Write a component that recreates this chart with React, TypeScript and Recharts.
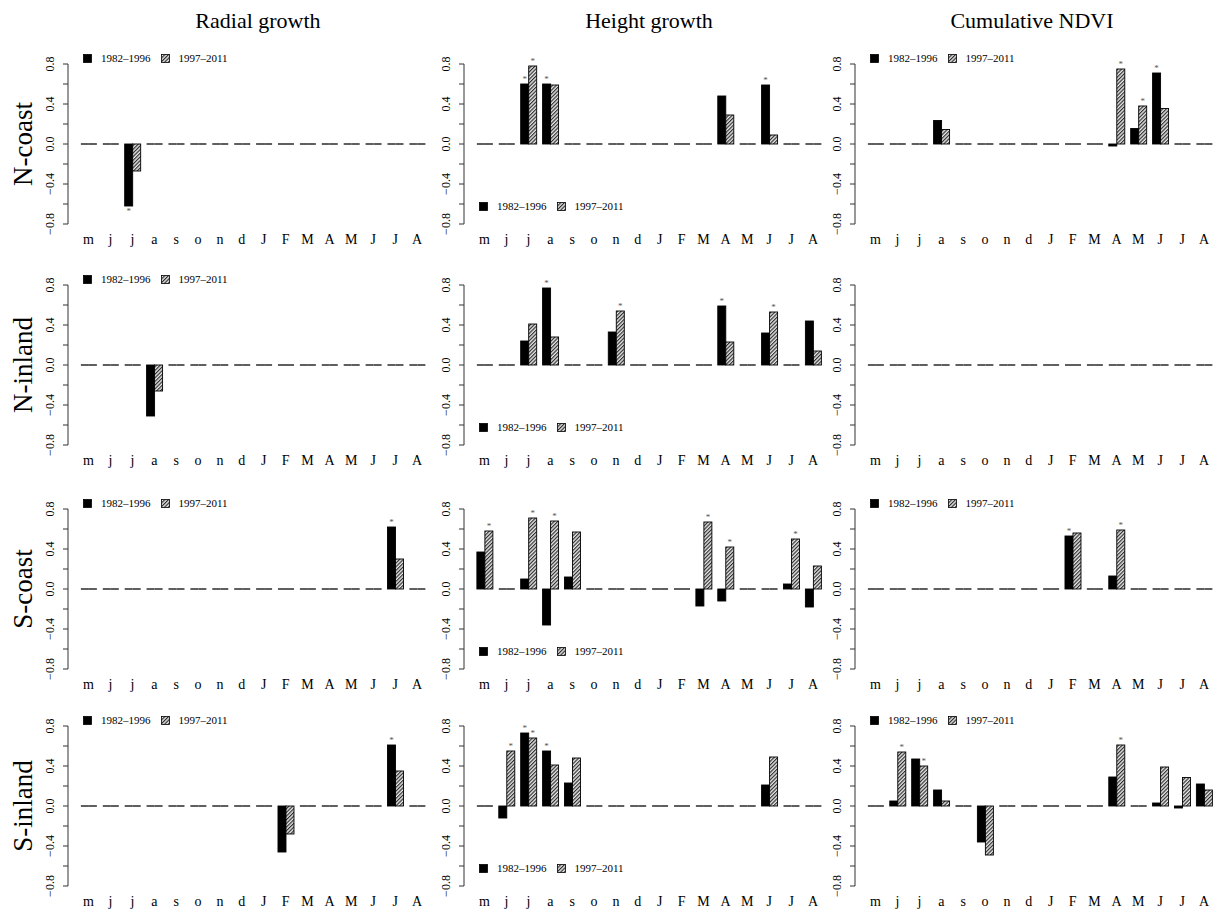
import React from "react";
import { BarChart, Bar, XAxis, YAxis, LabelList } from "recharts";

const SERIF = "'Liberation Serif', 'Times New Roman', serif";

const MONTHS = ["m", "j", "j", "a", "s", "o", "n", "d", "J", "F", "M", "A", "M", "J", "J", "A"];
const Y_TICKS = [-0.8, -0.6, -0.4, -0.2, 0, 0.2, 0.4, 0.6, 0.8];
const PERIODS = ["1982–1996", "1997–2011"];
const COLUMNS = ["Radial growth", "Height growth", "Cumulative NDVI"];
const REGIONS = ["N-coast", "N-inland", "S-coast", "S-inland"];

// radial growth (A = 1982-1996, B = 1997-2011), sig = indices marked with *
const radNCoastA = [0, 0, -0.62, 0, 0, 0, 0, 0, 0, 0, 0, 0, 0, 0, 0, 0];
const radNCoastB = [0, 0, -0.27, 0, 0, 0, 0, 0, 0, 0, 0, 0, 0, 0, 0, 0];
const radNCoastSigA = [2];
const radNCoastSigB: number[] = [];

const radNInlandA = [0, 0, 0, -0.51, 0, 0, 0, 0, 0, 0, 0, 0, 0, 0, 0, 0];
const radNInlandB = [0, 0, 0, -0.26, 0, 0, 0, 0, 0, 0, 0, 0, 0, 0, 0, 0];
const radNInlandSigA: number[] = [];
const radNInlandSigB: number[] = [];

const radSCoastA = [0, 0, 0, 0, 0, 0, 0, 0, 0, 0, 0, 0, 0, 0, 0.62, 0];
const radSCoastB = [0, 0, 0, 0, 0, 0, 0, 0, 0, 0, 0, 0, 0, 0, 0.3, 0];
const radSCoastSigA = [14];
const radSCoastSigB: number[] = [];

const radSInlandA = [0, 0, 0, 0, 0, 0, 0, 0, 0, -0.46, 0, 0, 0, 0, 0.61, 0];
const radSInlandB = [0, 0, 0, 0, 0, 0, 0, 0, 0, -0.28, 0, 0, 0, 0, 0.35, 0];
const radSInlandSigA = [14];
const radSInlandSigB: number[] = [];

// height growth
const htNCoastA = [0, 0, 0.6, 0.6, 0, 0, 0, 0, 0, 0, 0, 0.48, 0, 0.59, 0, 0];
const htNCoastB = [0, 0, 0.78, 0.59, 0, 0, 0, 0, 0, 0, 0, 0.29, 0, 0.09, 0, 0];
const htNCoastSigA = [2, 3, 13];
const htNCoastSigB = [2];

const htNInlandA = [0, 0, 0.24, 0.77, 0, 0, 0.33, 0, 0, 0, 0, 0.59, 0, 0.32, 0, 0.44];
const htNInlandB = [0, 0, 0.41, 0.28, 0, 0, 0.54, 0, 0, 0, 0, 0.23, 0, 0.53, 0, 0.14];
const htNInlandSigA = [3, 11];
const htNInlandSigB = [6, 13];

const htSCoastA = [0.37, 0, 0.1, -0.36, 0.12, 0, 0, 0, 0, 0, -0.17, -0.12, 0, 0, 0.05, -0.18];
const htSCoastB = [0.58, 0, 0.71, 0.68, 0.57, 0, 0, 0, 0, 0, 0.67, 0.42, 0, 0, 0.5, 0.23];
const htSCoastSigA: number[] = [];
const htSCoastSigB = [0, 2, 3, 10, 11, 14];

const htSInlandA = [0, -0.12, 0.73, 0.55, 0.23, 0, 0, 0, 0, 0, 0, 0, 0, 0.21, 0, 0];
const htSInlandB = [0, 0.55, 0.68, 0.41, 0.48, 0, 0, 0, 0, 0, 0, 0, 0, 0.49, 0, 0];
const htSInlandSigA = [2, 3];
const htSInlandSigB = [1, 2];

// cumulative NDVI
const ndNCoastA = [0, 0, 0, 0.235, 0, 0, 0, 0, 0, 0, 0, -0.02, 0.155, 0.71, 0, 0];
const ndNCoastB = [0, 0, 0, 0.145, 0, 0, 0, 0, 0, 0, 0, 0.75, 0.38, 0.355, 0, 0];
const ndNCoastSigA = [13];
const ndNCoastSigB = [11, 12];

const ndNInlandA = [0, 0, 0, 0, 0, 0, 0, 0, 0, 0, 0, 0, 0, 0, 0, 0];
const ndNInlandB = [0, 0, 0, 0, 0, 0, 0, 0, 0, 0, 0, 0, 0, 0, 0, 0];
const ndNInlandSigA: number[] = [];
const ndNInlandSigB: number[] = [];

const ndSCoastA = [0, 0, 0, 0, 0, 0, 0, 0, 0, 0.53, 0, 0.13, 0, 0, 0, 0];
const ndSCoastB = [0, 0, 0, 0, 0, 0, 0, 0, 0, 0.56, 0, 0.59, 0, 0, 0, 0];
const ndSCoastSigA = [9];
const ndSCoastSigB = [11];

const ndSInlandA = [0, 0.05, 0.47, 0.16, 0, -0.36, 0, 0, 0, 0, 0, 0.29, 0, 0.03, -0.02, 0.22];
const ndSInlandB = [0, 0.54, 0.4, 0.05, 0, -0.49, 0, 0, 0, 0, 0, 0.61, 0, 0.39, 0.285, 0.16];
const ndSInlandSigA: number[] = [];
const ndSInlandSigB = [1, 2, 11];

type PanelDef = {
  a: number[];
  b: number[];
  sigA: number[];
  sigB: number[];
  legend: "top" | "bottom" | "none";
};

const GRID: PanelDef[][] = [
  [
    { a: radNCoastA, b: radNCoastB, sigA: radNCoastSigA, sigB: radNCoastSigB, legend: "top" },
    { a: htNCoastA, b: htNCoastB, sigA: htNCoastSigA, sigB: htNCoastSigB, legend: "bottom" },
    { a: ndNCoastA, b: ndNCoastB, sigA: ndNCoastSigA, sigB: ndNCoastSigB, legend: "top" },
  ],
  [
    { a: radNInlandA, b: radNInlandB, sigA: radNInlandSigA, sigB: radNInlandSigB, legend: "top" },
    { a: htNInlandA, b: htNInlandB, sigA: htNInlandSigA, sigB: htNInlandSigB, legend: "bottom" },
    { a: ndNInlandA, b: ndNInlandB, sigA: ndNInlandSigA, sigB: ndNInlandSigB, legend: "none" },
  ],
  [
    { a: radSCoastA, b: radSCoastB, sigA: radSCoastSigA, sigB: radSCoastSigB, legend: "top" },
    { a: htSCoastA, b: htSCoastB, sigA: htSCoastSigA, sigB: htSCoastSigB, legend: "bottom" },
    { a: ndSCoastA, b: ndSCoastB, sigA: ndSCoastSigA, sigB: ndSCoastSigB, legend: "top" },
  ],
  [
    { a: radSInlandA, b: radSInlandB, sigA: radSInlandSigA, sigB: radSInlandSigB, legend: "top" },
    { a: htSInlandA, b: htSInlandB, sigA: htSInlandSigA, sigB: htSInlandSigB, legend: "bottom" },
    { a: ndSInlandA, b: ndSInlandB, sigA: ndSInlandSigA, sigB: ndSInlandSigB, legend: "top" },
  ],
];

// layout (px): y-axis x of each column, y of the 0.8 tick of each row
const COL_AXIS_X = [68, 464, 855];
const ROW_TOP = [64, 285, 509, 726];
const TITLE_X = [258, 649, 1032];

const Y_AXIS_W = 40;
const PLOT_W = 360;
const PLOT_H = 160;
const TOP_M = 20;
const X_AXIS_H = 34;

const makeShape = (fill: string) => (props: any) => {
  const { x, y, width, height } = props;
  if (!height || Math.abs(height) < 0.01) {
    return <line x1={x} x2={x + width} y1={y} y2={y} stroke="#4d4d4d" strokeWidth={1.8} />;
  }
  const top = height < 0 ? y + height : y;
  return (
    <rect x={x} y={top} width={width} height={Math.abs(height)} fill={fill} stroke="#000" strokeWidth={0.9} />
  );
};
const blackShape = makeShape("#000");
const hatchShape = makeShape("url(#hatch)");

const renderStar = (props: any) => {
  const { value } = props;
  if (value === null || value === undefined) return null;
  const vb = props.viewBox && props.viewBox.width !== undefined ? props.viewBox : props;
  const { x, y, width, height } = vb;
  const y1 = y;
  const y2 = y + (height || 0);
  const tip = value < 0 ? Math.max(y1, y2) + 8 : Math.min(y1, y2) - 2;
  return (
    <text x={x + width / 2} y={tip} textAnchor="middle" fontSize={9} fill="#555" fontFamily={SERIF}>
      *
    </text>
  );
};

const YTick = (props: any) => {
  const { x, y, payload } = props;
  const v = payload.value;
  if (Math.abs(Math.round(v * 10)) % 4 !== 0) return null;
  const label = Math.round(v * 10) === 0 ? "0.0" : (v < 0 ? "−" : "") + Math.abs(v).toFixed(1);
  const bx = x - 7;
  return (
    <text x={bx} y={y} transform={`rotate(-90 ${bx} ${y})`} textAnchor="middle" fontSize={12} fontFamily={SERIF} fill="#000">
      {label}
    </text>
  );
};

function PeriodLegend({ top }: { top: number }) {
  const sq = (fill: string) => (
    <svg width={9} height={9} style={{ display: "block", marginRight: 9 }}>
      <rect x={0.5} y={0.5} width={8} height={8} fill={fill} stroke="#000" strokeWidth={0.8} />
    </svg>
  );
  return (
    <div
      style={{
        position: "absolute",
        left: Y_AXIS_W + 15,
        top,
        height: 12,
        display: "flex",
        alignItems: "center",
        fontFamily: SERIF,
        fontSize: 11,
        color: "#000",
        whiteSpace: "nowrap",
      }}
    >
      {sq("#000")}
      <span style={{ marginRight: 10 }}>{PERIODS[0]}</span>
      {sq("url(#hatch)")}
      <span>{PERIODS[1]}</span>
    </div>
  );
}

function Panel({ def, axisX, plotTop }: { def: PanelDef; axisX: number; plotTop: number }) {
  const data = MONTHS.map((m, i) => ({
    i,
    a: def.a[i],
    b: def.b[i],
    sa: def.sigA.includes(i) ? def.a[i] : null,
    sb: def.sigB.includes(i) ? def.b[i] : null,
  }));
  const w = Y_AXIS_W + PLOT_W + 4;
  const h = TOP_M + PLOT_H + X_AXIS_H;
  const legendTop = def.legend === "top" ? TOP_M - 6 - 6 : TOP_M + PLOT_H / 2 + 62 - 6;
  return (
    <div style={{ position: "absolute", left: axisX - Y_AXIS_W, top: plotTop - TOP_M, width: w, height: h }}>
      <BarChart
        width={w}
        height={h}
        data={data}
        margin={{ top: TOP_M, right: 4, bottom: 0, left: 0 }}
        barCategoryGap="15%"
        barGap={0}
      >
        <XAxis
          dataKey="i"
          type="category"
          tickFormatter={(v: number) => MONTHS[v]}
          axisLine={false}
          tickLine={false}
          tickMargin={4}
          interval={0}
          padding={{ left: 9.6, right: 0 }}
          tick={{ fontSize: 14, fill: "#000", fontFamily: SERIF }}
          height={X_AXIS_H}
        />
        <YAxis
          type="number"
          domain={[-0.8, 0.8]}
          ticks={Y_TICKS}
          interval={0}
          allowDataOverflow
          width={Y_AXIS_W}
          tickSize={5}
          tick={<YTick />}
          axisLine={{ stroke: "#333" }}
          tickLine={{ stroke: "#333" }}
        />
        <Bar dataKey="a" isAnimationActive={false} shape={blackShape}>
          <LabelList dataKey="sa" content={renderStar} />
        </Bar>
        <Bar dataKey="b" isAnimationActive={false} shape={hatchShape}>
          <LabelList dataKey="sb" content={renderStar} />
        </Bar>
      </BarChart>
      {def.legend !== "none" && <PeriodLegend top={legendTop} />}
    </div>
  );
}

export default function App() {
  return (
    <div
      style={{
        position: "absolute",
        left: 0,
        top: 0,
        width: 1219,
        height: 912,
        background: "#fff",
        overflow: "hidden",
      }}
    >
      <svg width={0} height={0} style={{ position: "absolute" }}>
        <defs>
          <pattern id="hatch" patternUnits="userSpaceOnUse" width={2.6} height={2.6} patternTransform="rotate(45)">
            <rect x={0} y={0} width={2.6} height={2.6} fill="#e6e6e6" />
            <line x1={0.6} y1={0} x2={0.6} y2={2.6} stroke="#222" strokeWidth={1.1} />
          </pattern>
        </defs>
      </svg>
      <svg width={1219} height={912} style={{ position: "absolute", left: 0, top: 0 }}>
        {COLUMNS.map((t, c) => (
          <text key={t} x={TITLE_X[c]} y={28} textAnchor="middle" fontSize={22} fontFamily={SERIF} fill="#000">
            {t}
          </text>
        ))}
        {REGIONS.map((r, k) => {
          const cy = ROW_TOP[k] + PLOT_H / 2;
          return (
            <text key={r} x={32} y={cy} transform={`rotate(-90 32 ${cy})`} textAnchor="middle" fontSize={27} fontFamily={SERIF} fill="#000">
              {r}
            </text>
          );
        })}
      </svg>
      {GRID.map((row, r) =>
        row.map((def, c) => <Panel key={`${r}-${c}`} def={def} axisX={COL_AXIS_X[c]} plotTop={ROW_TOP[r]} />)
      )}
    </div>
  );
}
